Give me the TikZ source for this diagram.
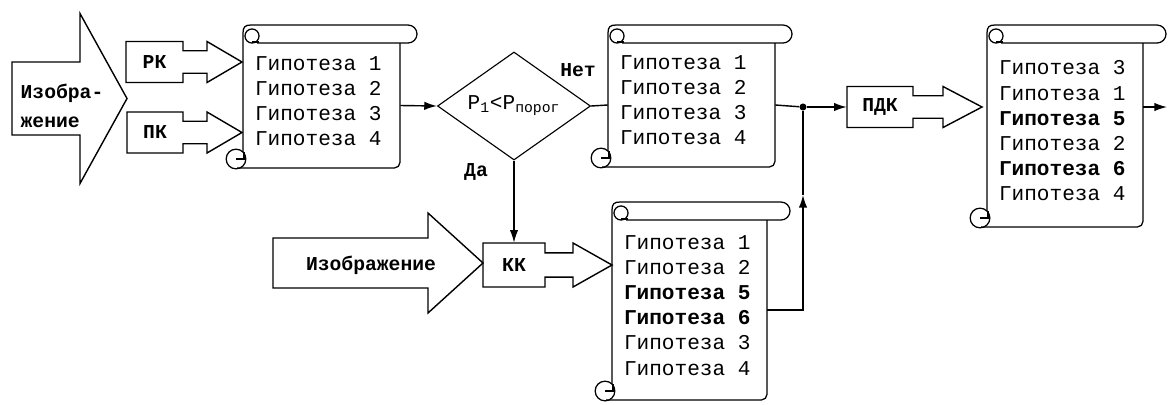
\documentclass[tikz,border=0pt]{standalone}
\usepackage{fontspec}
\setmonofont{Liberation Mono}
\usetikzlibrary{shapes.geometric, arrows.meta}

\newcommand{\hypfont}{\ttfamily\fontsize{15}{17.8}\selectfont}
\newcommand{\lblfont}{\ttfamily\bfseries\fontsize{14}{21}\selectfont}

% scroll with a list: name, left, top, right, bottom, end of top bar, text
\newcommand{\hypscroll}[7]{%
  \node[scrollbody, minimum width={(#4-#2)*0.025cm}, minimum height={(#5-#3-18)*0.025cm}] (#1) at ({(#2+#4)/2},{(#3+18+#5)/2}) {};
  \node[scrolltext, anchor=west] (#1-txt) at ([xshift=0.3cm, yshift=0.11cm]#1.west) {#7};
  \draw[scroll] (#2,#5-16) -- (#2,#3+8) .. controls (#2,#3+2) and (#2+2,#3) .. (#2+8,#3)
    -- (#6-9,#3) arc[start angle=-90, end angle=90, radius=9] -- (#2+14,#3+18);
  \draw[scroll] (#2+9,#3+11) circle[radius=5pt];
  \draw[scroll] (#2+9,#3+17) -- (#2+16,#3+17);
  \draw[scroll, rounded corners=4pt] (#2-6,#5) -- (#4,#5) -- (#4,#3+18);
  \draw[scroll] (#2-7,#5-9) circle[radius=7pt];
  \draw[scroll] (#2-7,#5-9) -- (#2+1,#5-9) -- (#2+1,#5-16);
}

% block arrow: name, text, left, middle, box right, head start, tip, half height
\newcommand{\blockarrow}[8]{%
  \draw[blockline] (#3,#4-#8) -- (#5,#4-#8) -- (#5,#4-0.55*#8) -- (#6,#4-0.55*#8) -- (#6,#4-#8)
    -- (#7,#4) -- (#6,#4+#8) -- (#6,#4+0.55*#8) -- (#5,#4+0.55*#8) -- (#5,#4+#8) -- (#3,#4+#8) -- cycle;
  \node[blocktext, minimum width={(#5-#3)*0.025cm}, minimum height={2*#8*0.025cm}] (#1) at ({(#3+#5)/2},#4) {#2};
}

% big input arrow: left, middle, head start, tip, half height body, half height head
\newcommand{\bigarrow}[6]{%
  \draw[blockline] (#1,#2-#5) -- (#3,#2-#5) -- (#3,#2-#6) -- (#4,#2) -- (#3,#2+#6) -- (#3,#2+#5) -- (#1,#2+#5) -- cycle;
}

\begin{document}
\begin{tikzpicture}[x=0.025cm, y=-0.025cm, >={Latex[length=9pt,width=6pt]},
    scroll/.style={line width=0.9pt},
    scrollbody/.style={inner sep=0pt},
    scrolltext/.style={font=\hypfont, align=left, inner sep=0pt},
    blockline/.style={line width=1pt, line join=miter},
    blocktext/.style={font=\lblfont, inner sep=0pt},
    dot/.style={circle, fill, inner sep=0pt, minimum size=5pt},
    arr/.style={->, line width=1pt}]
  \useasboundingbox (0,0) rectangle (1168,404);

  % inputs
  \bigarrow{12}{98.5}{80}{127}{36.5}{85}
  \node[blocktext, align=left] (img1) at (62,106) {Изобра-\\жение};
  \bigarrow{273}{263}{428}{483}{25}{50}
  \node[blocktext] (img2) at (371,265) {Изображение};

  \blockarrow{rk}{РК}{126}{62}{183}{207}{242}{20.5}
  \blockarrow{pk}{ПК}{127}{132.5}{183}{207}{242}{20.5}
  \blockarrow{kk}{КК}{483}{265}{545}{573}{612}{22}
  \blockarrow{pdk}{ПДК}{847}{107}{913}{943}{982}{20.5}

  % lists
  \hypscroll{s1}{243}{25}{400}{168}{417}{Гипотеза 1\\Гипотеза 2\\Гипотеза 3\\Гипотеза 4}
  \hypscroll{s2}{608}{25}{775}{167}{792}{Гипотеза 1\\Гипотеза 2\\Гипотеза 3\\Гипотеза 4}
  \hypscroll{s3}{612}{202}{767}{400}{790}{Гипотеза 1\\Гипотеза 2\\\textbf{Гипотеза 5}\\\textbf{Гипотеза 6}\\Гипотеза 3\\Гипотеза 4}
  \hypscroll{s4}{987}{25}{1143}{227}{1166}{Гипотеза 3\\Гипотеза 1\\\textbf{Гипотеза 5}\\Гипотеза 2\\\textbf{Гипотеза 6}\\Гипотеза 4}

  % test
  \node[draw, diamond, line width=0.8pt, aspect=1.4, minimum width=3.825cm, minimum height=2.7cm,
    inner sep=0pt, font=\hypfont] (cond) at (514,106) {P\textsubscript{1}<P\textsubscript{порог}};
  \node[blocktext] (no) at (578,70) {Нет};
  \node[blocktext] (yes) at (476,172) {Да};

  \node[dot] (jn) at (803,107) {};
  \coordinate (up) at (803,195);
  \coordinate (out) at (1167,107);

  \draw[arr] (s1.east) -- (cond.west);
  \draw[line width=1pt] (cond.east) -- (s2.west);
  \draw[arr] (cond.south) -- (kk.north);
  \draw[line width=1pt] (s2.east) -- (jn);
  \draw[arr] (jn) -- (pdk.west);
  \draw[arr] (s3.east) -| (up);
  \draw[line width=1pt] (up) -- (jn);
  \draw[arr] (s4.east |- pdk.east) -- (out);
\end{tikzpicture}
\end{document}
